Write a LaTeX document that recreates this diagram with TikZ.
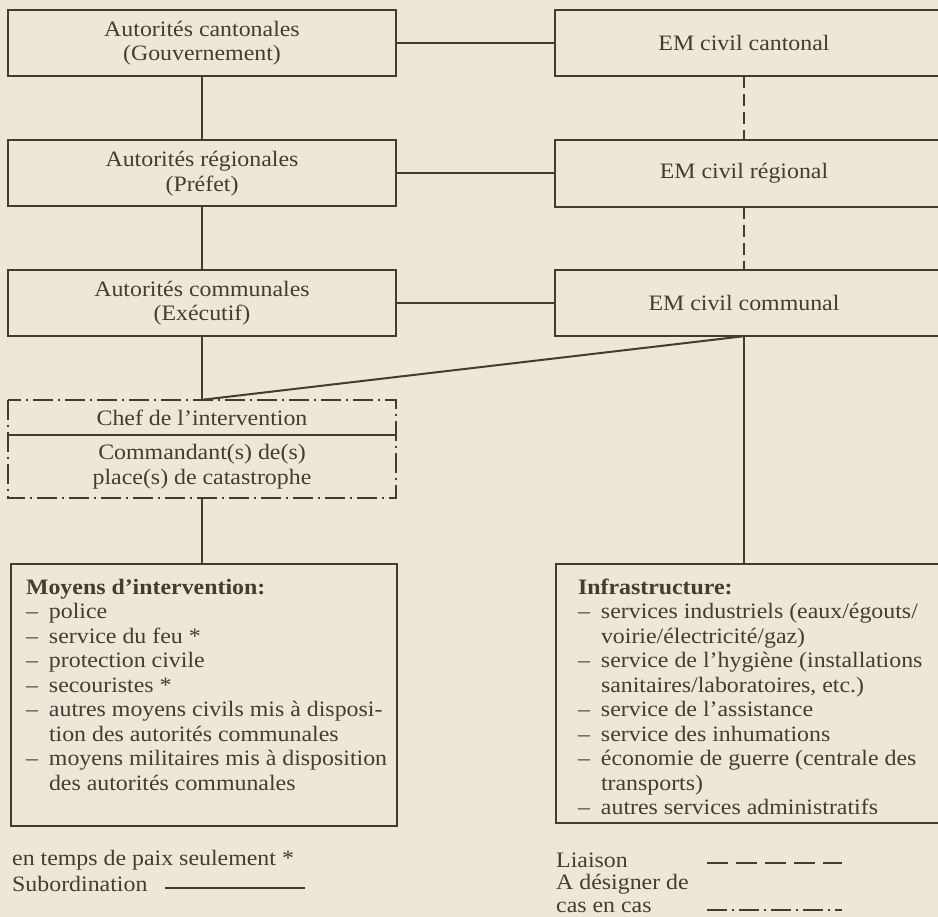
\documentclass[tikz,border=0pt]{standalone}
\usepackage{fontspec}
\setmainfont{Liberation Serif}[FakeStretch=1.085]
\usepackage{tikz}
\usetikzlibrary{positioning}
\definecolor{paper}{RGB}{237,231,216}
\definecolor{ink}{RGB}{72,58,50}
\tikzstyle{block} = [draw=ink, line width=2pt, rectangle, align=center,
    minimum width=388pt, minimum height=66pt, inner sep=0pt]
\tikzstyle{emblock} = [rectangle, align=center,
    minimum width=378pt, minimum height=66pt, inner sep=0pt]
\tikzstyle{part} = [rectangle, align=center, minimum width=388pt, inner sep=0pt]
\tikzstyle{liste} = [draw=ink, line width=2pt, rectangle, anchor=north west,
    inner ysep=15pt]
\tikzstyle{legende} = [anchor=west, inner sep=0pt]
\tikzstyle{line} = [draw=ink, line width=2pt]
\tikzstyle{liaison} = [line, dash pattern=on 12pt off 6pt]
\tikzstyle{adesigner} = [line, dash pattern=on 20pt off 5pt on 2pt off 5pt]
\newcommand{\tiret}[1]{\mbox{\makebox[23pt][l]{–}#1}}
\newcommand{\suite}[1]{\mbox{\hspace*{23pt}#1}}

\begin{document}
\begin{tikzpicture}[x=1pt, y=-1pt, font=\fontsize{22}{24.5}\selectfont, text=ink]
    \useasboundingbox (0,0) rectangle (938,917);
    \clip (0,0) rectangle (938,917);
    \fill [paper] (0,0) rectangle (938,917);

    % autorites
    \node [block] (cant) at (202,43) {Autorités cantonales\\(Gouvernement)};
    \node [block] (reg) at (202,173.5) {Autorités régionales\\(Préfet)};
    \node [block] (comm) at (202,303) {Autorités communales\\(Exécutif)};

    % etats-majors, ouverts a droite
    \node [emblock] (emcant) at (744,43) {EM civil cantonal};
    \node [emblock] (emreg) at (744,173.5) {EM civil régional};
    \node [emblock] (emcomm) at (744,303) {EM civil communal};
    \foreach \n in {emcant, emreg, emcomm}
        \draw [line] ([xshift=40pt]\n.north east) -- (\n.north west)
            -- (\n.south west) -- ([xshift=40pt]\n.south east);

    % intervention
    \node [part, minimum height=35pt] (chef) at (202,417.5) {Chef de l’intervention};
    \node [part, minimum height=63pt] (cmdt) at (202,466.5)
        {Commandant(s) de(s)\\place(s) de catastrophe};
    \draw [adesigner] (chef.north west) rectangle (cmdt.south east);
    \draw [line] (chef.south west) -- (chef.south east);

    \node [liste, inner xsep=15pt] (moyens) at (10,563) {\parbox[c][232pt][t]{356pt}{%
        \raggedright
        \textbf{Moyens d’intervention:}\\
        \tiret{police}\\
        \tiret{service du feu *}\\
        \tiret{protection civile}\\
        \tiret{secouristes *}\\
        \tiret{autres moyens civils mis à disposi-}\\
        \suite{tion des autorités communales}\\
        \tiret{moyens militaires mis à disposition}\\
        \suite{des autorités communales}}};
    \node [liste, inner xsep=22pt] (infra) at (555,563) {\parbox[c][229pt][t]{380pt}{%
        \raggedright
        \textbf{Infrastructure:}\\
        \tiret{services industriels (eaux/égouts/}\\
        \suite{voirie/électricité/gaz)}\\
        \tiret{service de l’hygiène (installations}\\
        \suite{sanitaires/laboratoires, etc.)}\\
        \tiret{service de l’assistance}\\
        \tiret{service des inhumations}\\
        \tiret{économie de guerre (centrale des}\\
        \suite{transports)}\\
        \tiret{autres services administratifs}}};

    % liens
    \draw [line] (cant) -- (reg);
    \draw [line] (reg) -- (comm);
    \draw [line] (comm) -- (chef);
    \draw [line] (cant) -- (emcant);
    \draw [line] (reg) -- (emreg);
    \draw [line] (comm) -- (emcomm);
    \draw [liaison] (emcant) -- (emreg);
    \draw [liaison] (emreg) -- (emcomm);
    \draw [line] (emcomm.south) -- (chef.north);
    \draw [line] (emcomm.south) -- (emcomm.south |- infra.north);
    \draw [line] (cmdt.south) -- (cmdt.south |- moyens.north);

    % legende
    \node [legende] (paix) at (12,860) {en temps de paix seulement *};
    \node [legende] (subord) at (12,884) {Subordination};
    \coordinate (sub-a) at (165,888);
    \coordinate (sub-b) at (305,888);
    \draw [line] (sub-a) -- (sub-b);
    \node [legende] (liais) at (556,860) {Liaison};
    \node [legende] (adesig) at (556,884) {A désigner de};
    \node [legende] (cascas) at (556,907) {cas en cas};
    \coordinate (lia-a) at (707,863);
    \coordinate (lia-b) at (842,863);
    \coordinate (ade-a) at (707,910);
    \coordinate (ade-b) at (842,910);
    \draw [liaison, dash pattern=on 21pt off 8pt] (lia-a) -- (lia-b);
    \draw [adesigner] (ade-a) -- (ade-b);
\end{tikzpicture}
\end{document}
